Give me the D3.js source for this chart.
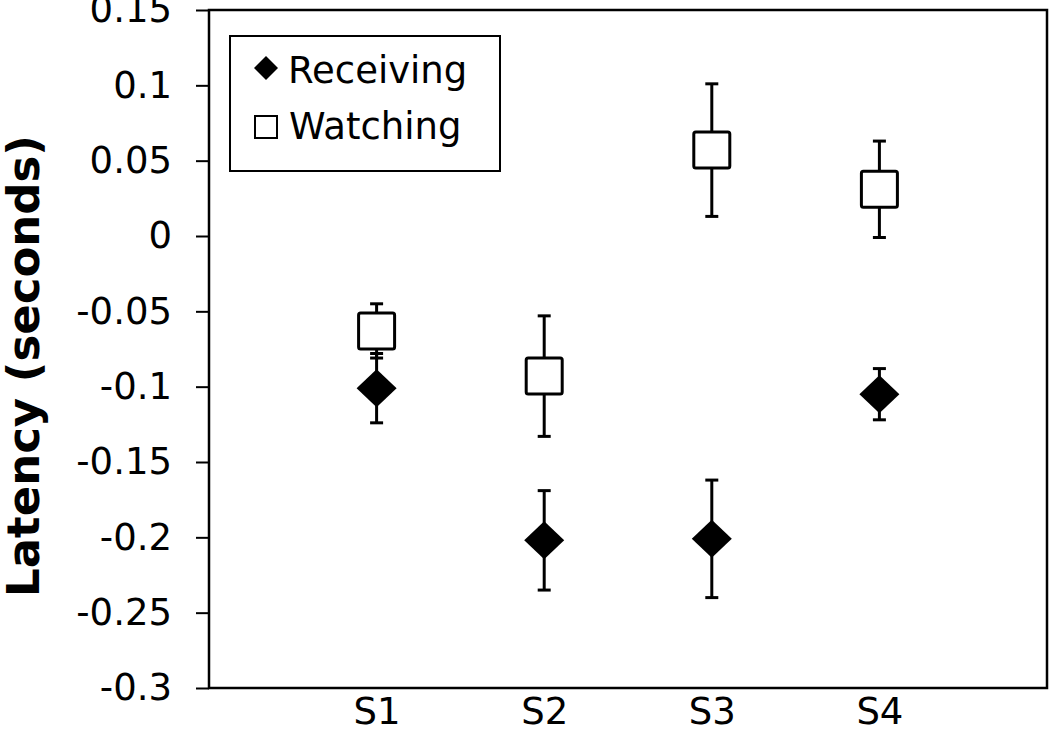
<!DOCTYPE html>
<html>
<head>
<meta charset="utf-8">
<script src="https://cdn.jsdelivr.net/npm/d3@7"></script>
<style>
  html, body { margin: 0; padding: 0; background: #fff; }
  svg { display: block; }
  text { font-family: "DejaVu Sans", Verdana, sans-serif; fill: #000; }
</style>
</head>
<body>
<svg id="chart" width="1050" height="733"></svg>
<script>
// ---- data ----
const categories = ["S1", "S2", "S3", "S4"];
const receivingMean = [-0.101, -0.202, -0.201, -0.105];
const receivingErr  = [0.023, 0.033, 0.039, 0.017];
const watchingMean  = [-0.063, -0.093, 0.057, 0.031];
const watchingErr   = [0.018, 0.040, 0.044, 0.032];
const yTicks      = [0.15, 0.1, 0.05, 0, -0.05, -0.1, -0.15, -0.2, -0.25, -0.3];
const yTickLabels = ["0.15", "0.1", "0.05", "0", "-0.05", "-0.1", "-0.15", "-0.2", "-0.25", "-0.3"];
const seriesNames = ["Receiving", "Watching"];
const yTitle = "Latency (seconds)";

// ---- layout ----
const L = 209, R = 1047, T = 10, B = 688;
const svg = d3.select("#chart");

const x = d3.scalePoint().domain(categories).range([L, R]).padding(1);
const y = d3.scaleLinear().domain([-0.3, 0.15]).range([B, T]);

// y axis
const yAxis = d3.axisLeft(y)
  .tickValues(yTicks)
  .tickFormat((d, i) => yTickLabels[i])
  .tickSize(13)
  .tickPadding(24);
const gy = svg.append("g").attr("transform", `translate(${L},0)`).call(yAxis);
gy.select(".domain").remove();
gy.selectAll(".tick line").attr("stroke", "#000").attr("stroke-width", 2);
gy.selectAll(".tick text").style("font-size", "37px").attr("fill", "#000");

// x axis
const xAxis = d3.axisBottom(x).tickSize(0).tickPadding(10);
const gx = svg.append("g").attr("transform", `translate(0,${B})`).call(xAxis);
gx.select(".domain").remove();
gx.selectAll(".tick text").style("font-size", "37px").attr("fill", "#000");

// frame
svg.append("rect")
  .attr("x", L).attr("y", T).attr("width", R - L).attr("height", B - T)
  .attr("fill", "none").attr("stroke", "#000").attr("stroke-width", 2.5);

// y title
svg.append("text")
  .attr("transform", `translate(39,366) rotate(-90)`)
  .attr("text-anchor", "middle")
  .style("font-size", "45px").style("font-weight", "bold")
  .text(yTitle);

// error bars
function errorBars(means, errs) {
  const cap = 6.5;
  const g = svg.append("g").attr("stroke", "#000").attr("stroke-width", 3).attr("fill", "none");
  categories.forEach((c, i) => {
    const cx = x(c), y1 = y(means[i] + errs[i]), y2 = y(means[i] - errs[i]);
    g.append("line").attr("x1", cx).attr("x2", cx).attr("y1", y1).attr("y2", y2);
    g.append("line").attr("x1", cx - cap).attr("x2", cx + cap).attr("y1", y1).attr("y2", y1);
    g.append("line").attr("x1", cx - cap).attr("x2", cx + cap).attr("y1", y2).attr("y2", y2);
  });
}
errorBars(watchingMean, watchingErr);
errorBars(receivingMean, receivingErr);

// markers
const dw = 20, dh = 19;
const diamondPath = `M0,${-dh}L${dw},0L0,${dh}L${-dw},0Z`;
svg.append("g").selectAll("path")
  .data(categories)
  .join("path")
  .attr("transform", (c, i) => `translate(${x(c)},${y(receivingMean[i])})`)
  .attr("d", diamondPath)
  .attr("fill", "#000");

const sq = 36;
svg.append("g").selectAll("rect")
  .data(categories)
  .join("rect")
  .attr("x", c => x(c) - sq / 2)
  .attr("y", (c, i) => y(watchingMean[i]) - sq / 2)
  .attr("width", sq).attr("height", sq)
  .attr("rx", 2)
  .attr("fill", "#fff").attr("stroke", "#000").attr("stroke-width", 3);

// legend
const lg = svg.append("g");
lg.append("rect")
  .attr("x", 230).attr("y", 36).attr("width", 270).attr("height", 135)
  .attr("fill", "#fff").attr("stroke", "#000").attr("stroke-width", 2);
lg.append("path")
  .attr("transform", "translate(266,68)")
  .attr("d", "M0,-12L12,0L0,12L-12,0Z")
  .attr("fill", "#000");
lg.append("rect")
  .attr("x", 255).attr("y", 116).attr("width", 22).attr("height", 22)
  .attr("fill", "#fff").attr("stroke", "#000").attr("stroke-width", 2);
lg.append("text").attr("x", 288).attr("y", 83).style("font-size", "37px").text(seriesNames[0]);
lg.append("text").attr("x", 289).attr("y", 139).style("font-size", "37px").text(seriesNames[1]);
</script>
</body>
</html>
